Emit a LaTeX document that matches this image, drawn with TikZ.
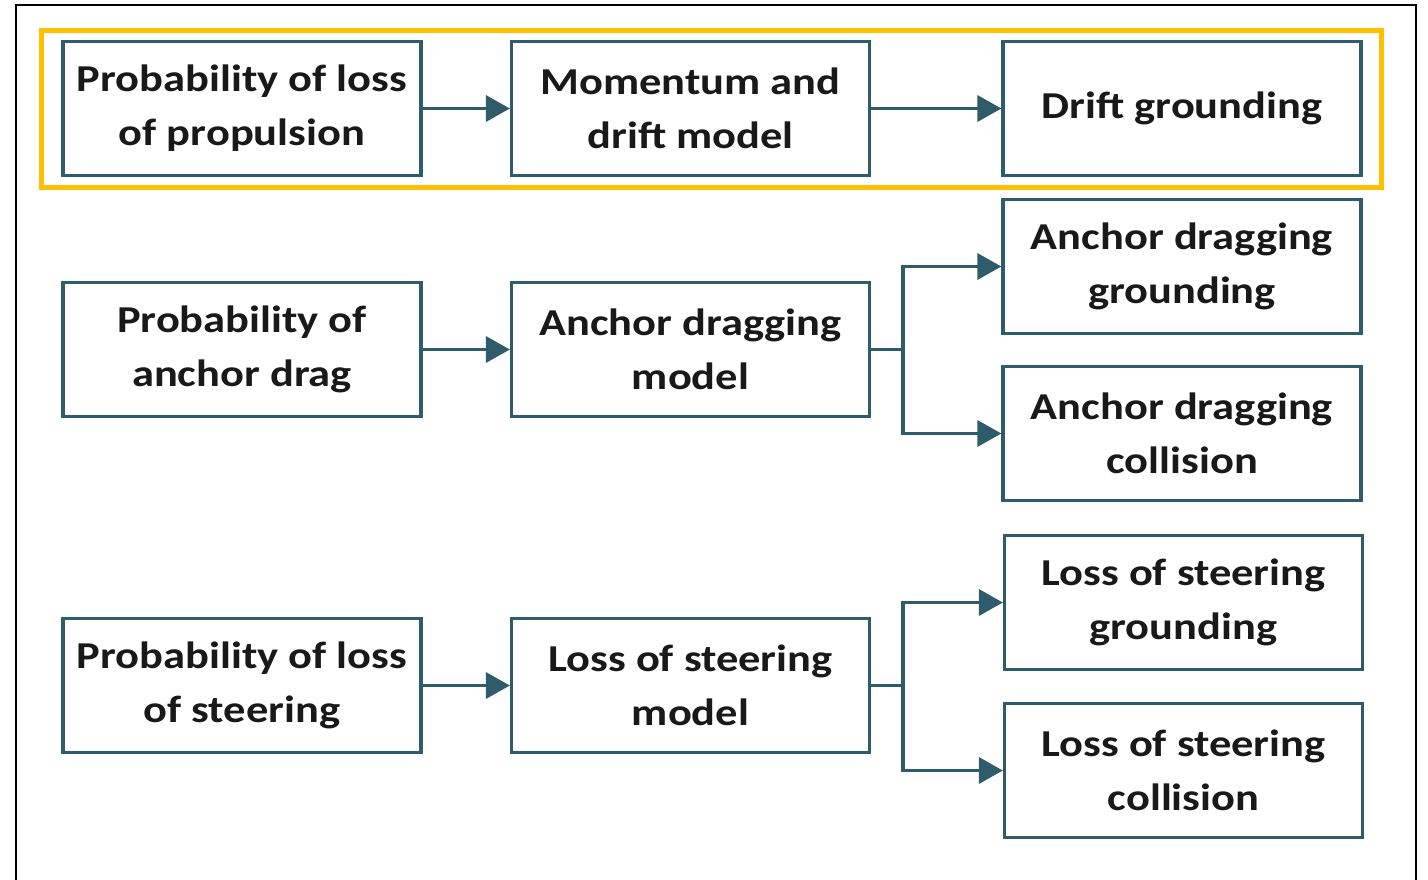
\documentclass[tikz,border=0pt]{standalone}
\usepackage{fontspec}
\setmainfont{Carlito}[FakeStretch=1.17]
\usetikzlibrary{arrows.meta}
\definecolor{teal}{RGB}{47,92,106}
\definecolor{gold}{RGB}{255,192,0}
\tikzset{
  box/.style={draw=teal, line width=3.2pt, fill=white, rectangle,
    minimum width=358pt, minimum height=134pt, inner sep=0pt,
    align=center, font=\fontsize{38pt}{54pt}\selectfont\bfseries, text=black!90},
  link/.style={draw=teal, line width=3.4pt,
    -{Triangle[length=24pt, width=26pt]}},
  branch/.style={draw=teal, line width=3.4pt},
}
\begin{document}
\begin{tikzpicture}[x=1pt, y=-1pt]
  \useasboundingbox (0,0) rectangle (1428,879);
  % outer frame, open at the bottom
  \draw[line width=2pt, black] (16,890) -- (16,5) -- (1416,5) -- (1416,890);
  % highlight around the first chain
  \node[draw=gold, line width=5pt, minimum width=1340pt, minimum height=157pt,
        inner sep=0pt] (hl) at (711,108.5) {};

  % first chain
  \node[box] (pprop) at (242,108.5) {Probability of loss\\of propulsion};
  \node[box] (drift) at (690.5,108.5) {Momentum and\\drift model};
  \node[box] (dground) at (1182,108.5) {Drift grounding};

  % second chain
  \node[box] (panchor) at (242,349.5) {Probability of\\anchor drag};
  \node[box] (amodel) at (690.5,349.5) {Anchor dragging\\model};
  \node[box] (aground) at (1182,266.5) {Anchor dragging\\grounding};
  \node[box] (acoll) at (1182,433.5) {Anchor dragging\\collision};

  % third chain
  \node[box] (psteer) at (242,685.5) {Probability of loss\\of steering};
  \node[box] (smodel) at (690.5,685.5) {Loss of steering\\model};
  \node[box] (sground) at (1183.5,602.5) {Loss of steering\\grounding};
  \node[box] (scoll) at (1183.5,770.5) {Loss of steering\\collision};

  % connectors
  \draw[link] (pprop.east) -- (drift.west);
  \draw[link] (drift.east) -- (dground.west);

  \draw[link] (panchor.east) -- (amodel.west);
  \coordinate (aj) at (903,349.5);
  \draw[branch] (amodel.east) -- (aj);
  \draw[link] (aj) |- (aground.west);
  \draw[link] (aj) |- (acoll.west);

  \draw[link] (psteer.east) -- (smodel.west);
  \coordinate (sj) at (903,685.5);
  \draw[branch] (smodel.east) -- (sj);
  \draw[link] (sj) |- (sground.west);
  \draw[link] (sj) |- (scoll.west);
\end{tikzpicture}
\end{document}
